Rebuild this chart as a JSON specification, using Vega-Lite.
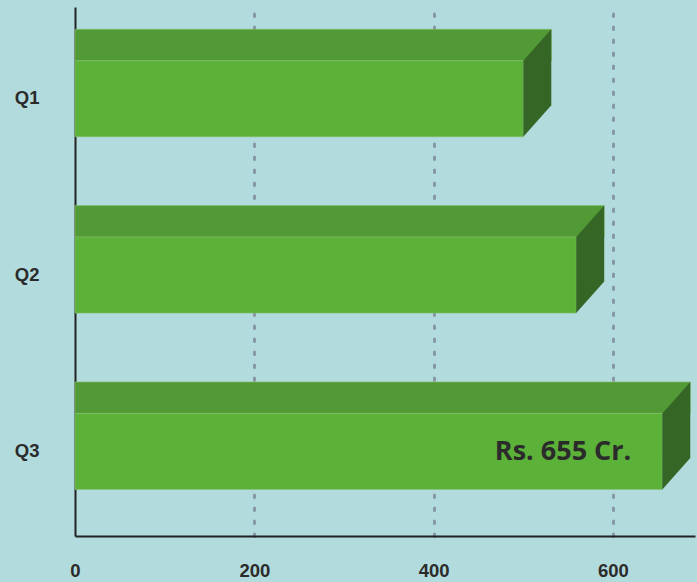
{
  "$schema": "https://vega.github.io/schema/vega-lite/v6.json",
  "width": 620,
  "height": 529,
  "autosize": {"type": "none"},
  "padding": {"left": 75, "top": 7, "right": 2, "bottom": 46},
  "background": "#b2dbdd",
  "config": {"view": {"stroke": null}},
  "data": {
    "values": [
      {"quarter": "Q1", "value": 500, "label": ""},
      {"quarter": "Q2", "value": 559, "label": ""},
      {"quarter": "Q3", "value": 655, "label": "Rs. 655 Cr."}
    ]
  },
  "encoding": {
    "y": {
      "field": "quarter",
      "type": "nominal",
      "sort": ["Q1", "Q2", "Q3"],
      "scale": {"paddingInner": 0, "paddingOuter": 0},
      "axis": {
        "title": null,
        "ticks": false,
        "tickSize": 0,
        "domainColor": "#222222",
        "domainWidth": 2,
        "labelFont": "Liberation Sans",
        "labelFontSize": 18.5,
        "labelFontWeight": "bold",
        "labelColor": "#2b2b2b",
        "labelPadding": 36,
        "labelOffset": 3,
        "grid": false
      }
    },
    "x": {
      "field": "value",
      "type": "quantitative",
      "scale": {"domain": [0, 691.5], "nice": false},
      "axis": {
        "title": null,
        "values": [0, 200, 400, 600],
        "ticks": false,
        "tickSize": 0,
        "domainColor": "#222222",
        "domainWidth": 2,
        "labelFont": "Liberation Sans",
        "labelFontSize": 18.5,
        "labelFontWeight": "bold",
        "labelColor": "#2b2b2b",
        "labelPadding": 25,
        "labelFlush": false,
        "labelOverlap": false,
        "grid": true,
        "gridColor": "#8797a5",
        "gridWidth": 3,
        "gridDash": [2.5, 10.5],
        "gridCap": "round",
        "gridOpacity": {"condition": {"test": "datum.value === 0", "value": 0}, "value": 1}
      }
    }
  },
  "layer": [
    {
      "mark": {"type": "bar", "color": "#529a35", "height": 31.5, "yOffset": -50.15, "xOffset": 28, "stroke": "#86c070", "strokeWidth": 1, "strokeOpacity": 0.6},
      "encoding": {"x2": {"datum": 0}}
    },
    {
      "mark": {"type": "bar", "color": "#5cb139", "height": 76, "yOffset": 3.6, "stroke": "#86c070", "strokeWidth": 1, "strokeOpacity": 0.6},
      "encoding": {"x2": {"datum": 0}}
    },
    {
      "mark": {"type": "point", "shape": "M0,-38L28,-69.5L28,6.5L0,38Z", "size": 4, "filled": true, "color": "#356626", "opacity": 1, "strokeWidth": 0, "yOffset": 3.6},
      "encoding": {}
    },
    {
      "mark": {"type": "text", "align": "right", "baseline": "middle", "dx": -31, "yOffset": 4, "font": "Open Sans", "fontWeight": "bold", "fontSize": 27, "color": "#2b2b2b"},
      "encoding": {"text": {"field": "label"}}
    }
  ]
}
